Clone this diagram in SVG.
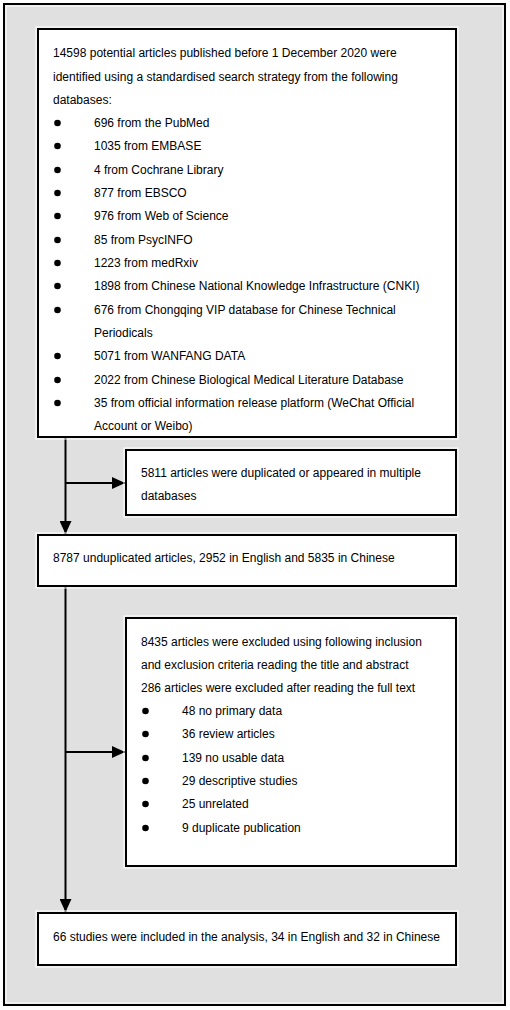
<svg xmlns="http://www.w3.org/2000/svg" width="510" height="1010" viewBox="0 0 510 1010">
<defs>
<style>
.box{fill:#fff;stroke:#000;stroke-width:2}
.halo{fill:none;stroke:#fff;stroke-width:1}
.t{font-family:"Liberation Sans",Arial,sans-serif;font-size:12px;fill:#000}
.ln{stroke:#000;stroke-width:2;fill:none}
.dot{fill:#000}
</style>
<marker id="ah" markerWidth="13" markerHeight="12" refX="13" refY="6" orient="auto" markerUnits="userSpaceOnUse">
<path d="M0,0 L13,6 L0,12 Z" fill="#000"/>
</marker>
<clipPath id="c1"><rect x="38" y="29" width="418" height="408"/></clipPath>
</defs>
<rect x="4" y="4" width="501" height="1001" fill="#e0e0e0" stroke="#000" stroke-width="2"/>
<rect x="6" y="6" width="497" height="997" fill="none" stroke="#fff" stroke-width="1"/>

<g id="connectors">
<line class="ln" x1="65.5" y1="438" x2="65.5" y2="534" marker-end="url(#ah)"/>
<line class="ln" x1="65.5" y1="483" x2="125" y2="483" marker-end="url(#ah)"/>
<line class="ln" x1="65.5" y1="587" x2="65.5" y2="912" marker-end="url(#ah)"/>
<line class="ln" x1="65.5" y1="752" x2="125" y2="752" marker-end="url(#ah)"/>
</g>

<g id="n1">
<rect class="halo" x="36" y="27" width="422" height="412"/>
<rect class="box" x="38" y="29" width="418" height="408"/>
<g clip-path="url(#c1)">
<text class="t" x="53" y="57">14598 potential articles published before 1 December 2020 were</text>
<text class="t" x="53" y="81">identified using a standardised search strategy from the following</text>
<text class="t" x="53" y="104">databases:</text>
<circle class="dot" cx="57.5" cy="123" r="3.3"/><text class="t" x="94" y="127">696 from the PubMed</text>
<circle class="dot" cx="57.5" cy="146" r="3.3"/><text class="t" x="94" y="150">1035 from EMBASE</text>
<circle class="dot" cx="57.5" cy="170" r="3.3"/><text class="t" x="94" y="174">4 from Cochrane Library</text>
<circle class="dot" cx="57.5" cy="193" r="3.3"/><text class="t" x="94" y="197">877 from EBSCO</text>
<circle class="dot" cx="57.5" cy="216" r="3.3"/><text class="t" x="94" y="220">976 from Web of Science</text>
<circle class="dot" cx="57.5" cy="240" r="3.3"/><text class="t" x="94" y="244">85 from PsycINFO</text>
<circle class="dot" cx="57.5" cy="263" r="3.3"/><text class="t" x="94" y="267">1223 from medRxiv</text>
<circle class="dot" cx="57.5" cy="286" r="3.3"/><text class="t" x="94" y="290">1898 from Chinese National Knowledge Infrastructure (CNKI)</text>
<circle class="dot" cx="57.5" cy="310" r="3.3"/><text class="t" x="94" y="314">676 from Chongqing VIP database for Chinese Technical</text>
<text class="t" x="94" y="337">Periodicals</text>
<circle class="dot" cx="57.5" cy="356" r="3.3"/><text class="t" x="94" y="360">5071 from WANFANG DATA</text>
<circle class="dot" cx="57.5" cy="380" r="3.3"/><text class="t" x="94" y="384">2022 from Chinese Biological Medical Literature Database</text>
<circle class="dot" cx="57.5" cy="403" r="3.3"/><text class="t" x="94" y="407">35 from official information release platform (WeChat Official</text>
<text class="t" x="94" y="430">Account or Weibo)</text>
</g>
</g>

<g id="n2">
<rect class="halo" x="124" y="448" width="334" height="69"/>
<rect class="box" x="126" y="450" width="330" height="65"/>
<text class="t" x="141" y="477">5811 articles were duplicated or appeared in multiple</text>
<text class="t" x="141" y="500">databases</text>
</g>

<g id="n3">
<rect class="halo" x="36" y="533" width="422" height="55"/>
<rect class="box" x="38" y="535" width="418" height="51"/>
<text class="t" x="53" y="562">8787 unduplicated articles, 2952 in English and 5835 in Chinese</text>
</g>

<g id="n4">
<rect class="halo" x="124" y="616" width="334" height="252"/>
<rect class="box" x="126" y="618" width="330" height="248"/>
<text class="t" x="141" y="646">8435 articles were excluded using following inclusion</text>
<text class="t" x="141" y="669">and exclusion criteria reading the title and abstract</text>
<text class="t" x="141" y="692">286 articles were excluded after reading the full text</text>
<circle class="dot" cx="145.5" cy="711" r="3.3"/><text class="t" x="182" y="715">48 no primary data</text>
<circle class="dot" cx="145.5" cy="734" r="3.3"/><text class="t" x="182" y="738">36 review articles</text>
<circle class="dot" cx="145.5" cy="758" r="3.3"/><text class="t" x="182" y="762">139 no usable data</text>
<circle class="dot" cx="145.5" cy="781" r="3.3"/><text class="t" x="182" y="785">29 descriptive studies</text>
<circle class="dot" cx="145.5" cy="804" r="3.3"/><text class="t" x="182" y="808">25 unrelated</text>
<circle class="dot" cx="145.5" cy="828" r="3.3"/><text class="t" x="182" y="832">9 duplicate publication</text>
</g>

<g id="n5">
<rect class="halo" x="36" y="911" width="422" height="56"/>
<rect class="box" x="38" y="913" width="418" height="52"/>
<text class="t" x="53" y="941">66 studies were included in the analysis, 34 in English and 32 in Chinese</text>
</g>
</svg>
